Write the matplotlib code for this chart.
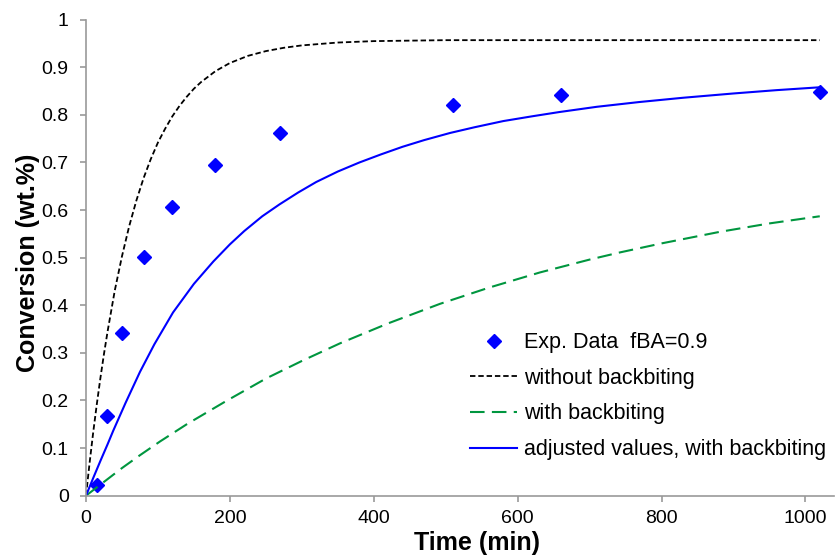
import matplotlib
matplotlib.use("Agg")
import matplotlib.pyplot as plt

plt.rcParams['font.family'] = ['Liberation Sans', 'DejaVu Sans']

exp_time = [15, 29, 50, 80, 120, 180, 270, 510, 660, 1020]
exp_conv = [0.022, 0.167, 0.342, 0.502, 0.607, 0.695, 0.762, 0.821, 0.842, 0.848]

# model curves
nobb_time = [0, 5, 10, 15, 20, 25, 30, 40, 50, 60, 70, 80, 90, 100, 110, 120, 130,
             140, 150, 160, 180, 200, 225, 250, 275, 300, 350, 400, 500, 700, 1020]
nobb_conv = [0, 0.069, 0.133, 0.192, 0.247, 0.298, 0.345, 0.431, 0.503, 0.566, 0.620,
             0.667, 0.707, 0.742, 0.771, 0.797, 0.819, 0.838, 0.855, 0.869, 0.892,
             0.909, 0.924, 0.934, 0.941, 0.946, 0.952, 0.955, 0.957, 0.957, 0.957]

bb_time = [0, 25, 50, 75, 103, 140, 195, 250, 300, 353, 420, 492, 560, 631, 700,
           742, 800, 880, 950, 1020]
bb_conv = [0, 0.029, 0.058, 0.085, 0.114, 0.150, 0.199, 0.246, 0.283, 0.320, 0.362,
           0.403, 0.437, 0.469, 0.496, 0.511, 0.530, 0.554, 0.572, 0.587]

adj_time = [0, 10, 20, 30, 38, 55, 75, 95, 121, 150, 177, 200, 220, 245, 269, 295,
            320, 350, 380, 410, 440, 470, 506, 540, 580, 620, 658, 710, 769, 830,
            900, 960, 1020]
adj_conv = [0, 0.037, 0.073, 0.108, 0.137, 0.195, 0.260, 0.318, 0.385, 0.445, 0.492,
            0.528, 0.556, 0.587, 0.612, 0.637, 0.659, 0.681, 0.700, 0.717, 0.733,
            0.747, 0.762, 0.774, 0.787, 0.797, 0.806, 0.817, 0.827, 0.836, 0.845,
            0.852, 0.858]

fig = plt.figure(figsize=(8.35, 5.58), dpi=100)
ax = fig.add_axes([0.103, 0.1117, 0.896, 0.853])

ax.plot(exp_time, exp_conv, linestyle='none', marker='D', markersize=7,
        color='#0000FF', label='Exp. Data  fBA=0.9')
ax.plot(nobb_time, nobb_conv, color='black', linewidth=1.3,
        linestyle=(0, (3, 1.6)), label='without backbiting')
ax.plot(bb_time, bb_conv, color='#00963F', linewidth=1.5,
        linestyle=(0, (7, 3.5)), label='with backbiting')
ax.plot(adj_time, adj_conv, color='#0000FF', linewidth=1.5,
        label='adjusted values, with backbiting')

ax.set_xlim(0, 1040)
ax.set_ylim(0, 1)
ax.set_xticks([0, 200, 400, 600, 800, 1000])
ax.set_yticks([0, 0.1, 0.2, 0.3, 0.4, 0.5, 0.6, 0.7, 0.8, 0.9, 1])
ax.set_yticklabels(['0', '0.1', '0.2', '0.3', '0.4', '0.5', '0.6', '0.7', '0.8',
                    '0.9', '1'])

for side in ['top', 'right']:
    ax.spines[side].set_visible(False)
for side in ['left', 'bottom']:
    ax.spines[side].set_color('#999999')
    ax.spines[side].set_linewidth(1.2)
ax.tick_params(direction='out', length=4.5, width=1.2, color='#999999',
               labelsize=14, labelcolor='black')
ax.tick_params(axis='y', pad=8)
ax.tick_params(axis='x', pad=6)

ax.set_xlabel('Time (min)', fontsize=18, fontweight='bold')
ax.set_ylabel('Conversion (wt.%)', fontsize=18, fontweight='bold')
ax.xaxis.set_label_coords(0.522, -0.074)
ax.yaxis.set_label_coords(-0.062, 0.49)

ax.legend(loc='center left', bbox_to_anchor=(0.563, 0.29),
          bbox_transform=fig.transFigure, frameon=False, fontsize=15.5,
          numpoints=1, handlelength=2.2, handletextpad=0.3, labelspacing=0.68,
          borderpad=0, borderaxespad=0)

fig.savefig('out.png', dpi=100)
